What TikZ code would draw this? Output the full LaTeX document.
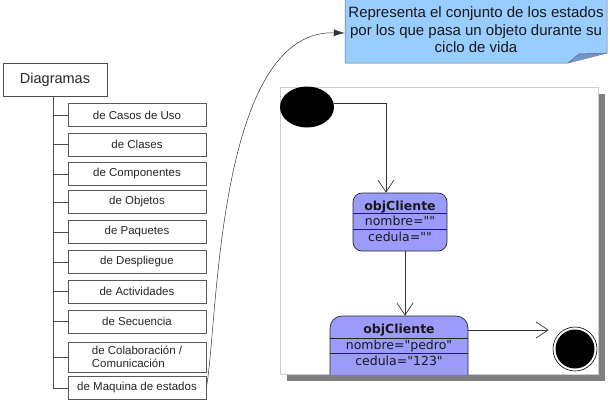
\documentclass[tikz,border=0pt]{standalone}
\usepackage{fontspec}
\setmainfont{Liberation Sans}
\newfontfamily\dejavu{DejaVu Sans}
\usetikzlibrary{arrows.meta,shapes.geometric}
\definecolor{noteblue}{RGB}{153,204,255}
\definecolor{foldblue}{RGB}{110,150,205}
\definecolor{statefill}{RGB}{155,155,252}
\definecolor{shadowgray}{RGB}{128,128,128}
\definecolor{framegray}{RGB}{205,205,205}
\begin{document}
\begin{tikzpicture}[x=1pt,y=-1pt,
  treebox/.style={draw=black!65, fill=white, minimum width=138pt, minimum height=23pt, inner sep=0pt,
    font=\fontsize{11.5}{13}\selectfont, text=black!85},
  treeline/.style={draw=black!70, line width=0.7pt},
  statebox/.style={draw=black!85, fill=statefill, line width=0.7pt, inner sep=0pt},
  statetext/.style={anchor=base, inner sep=0pt, font=\dejavu\fontsize{12.5}{14}\selectfont, text=black!90},
  divider/.style={draw=black!85, line width=0.7pt},
  statearrow/.style={draw=black!80, line width=0.7pt, -{Straight Barb[length=12pt,width=16pt]}},
]
\useasboundingbox (0,0) rectangle (610,400);

% ---- left tree ----
\node (dg) [draw=black!70, fill=white, minimum width=104pt, minimum height=33pt, inner sep=0pt,
  font=\fontsize{14.5}{16}\selectfont, text=black!85] at (55,79.5) {Diagramas};
\node (c1)  [treebox] at (137,115)   {de Casos de Uso};
\node (c2)  [treebox] at (137,144.5) {de Clases};
\node (c3)  [treebox] at (137,174)   {de Componentes};
\node (c4)  [treebox] at (137,202)   {de Objetos};
\node (c5)  [treebox] at (137,232)   {de Paquetes};
\node (c6)  [treebox] at (137,262)   {de Despliegue};
\node (c7)  [treebox] at (137,291.5) {de Actividades};
\node (c8)  [treebox] at (137,321.5) {de Secuencia};
\node (c9)  [treebox, minimum height=30pt, align=left] at (137,357) {de Colaboración /\\Comunicación};
\node (c10) [treebox] at (137,388)   {de Maquina de estados};

\draw[treeline] ([xshift=-2pt]dg.south) |- (c10.west);
\foreach \c in {c1,c2,c3,c4,c5,c6,c7,c8,c9}
  \draw[treeline] ([xshift=-2pt]dg.south |- \c.west) -- (\c.west);

% ---- note ----
\fill[noteblue] (345,-2) -- (607,-2) -- (607,53) -- (568,63) -- (345,63) -- cycle;
\draw[black!60, line width=0.5pt] (607,-2) -- (607,53) -- (568,63) -- (345,63) -- (345,-2);
\fill[foldblue] (568,63) -- (579,54) -- (607,53) -- cycle;
\draw[black!60, line width=0.5pt] (568,63) -- (579,54) -- (607,53);
\node (note) [minimum width=262pt, minimum height=64pt, inner sep=0pt, align=center,
  font=\fontsize{15}{17.5}\selectfont, text=black!90] at (476,30)
  {Representa el conjunto de los estados\\por los que pasa un objeto durante su\\ciclo de vida};

\draw[black!80, line width=0.5pt, -{Latex[length=11pt,width=7pt]}]
  (c10.east) .. controls (218,330) and (215,30) .. ([yshift=-3pt]note.west);

% ---- state frame ----
\fill[shadowgray] (287,94) rectangle (605,381);
\draw[framegray, fill=white, line width=0.7pt] (280,87) rectangle (598,374);

\node (init) [ellipse, fill=black, minimum width=54pt, minimum height=41pt, inner sep=0pt] at (307,107) {};

\begin{scope}
\clip (280,87) rectangle (598,374.5);
% state 1
\node (s1) [statebox, rounded corners=9pt, minimum width=94pt, minimum height=58pt] at (400,222) {};
\draw[divider] (s1.west |- 0,213) -- (s1.east |- 0,213);
\draw[divider] (s1.west |- 0,229) -- (s1.east |- 0,229);
\node (s1t) [statetext, font=\dejavu\bfseries\fontsize{12.5}{14}\selectfont] at (400,210) {objCliente};
\node (s1a) [statetext] at (400,225.5) {nombre=""};
\node (s1b) [statetext] at (400,241) {cedula=""};
% state 2
\node (s2) [statebox, rounded corners=12pt, minimum width=138pt, minimum height=74pt] at (399,353) {};
\draw[divider] (s2.west |- 0,338) -- (s2.east |- 0,338);
\draw[divider] (s2.west |- 0,353) -- (s2.east |- 0,353);
\node (s2t) [statetext, font=\dejavu\bfseries\fontsize{12.5}{14}\selectfont] at (399,333.5) {objCliente};
\node (s2a) [statetext] at (399,349) {nombre="pedro"};
\node (s2b) [statetext] at (399,365) {cedula="123"};
% final state
\node (fin) [circle, draw=black, fill=white, line width=0.6pt, minimum size=44pt, inner sep=0pt] at (575,349) {};
\fill[black] (fin.center) circle (19.5);
\end{scope}

% transitions
\draw[statearrow] ([yshift=4pt]init.east) -| ([xshift=-14pt]s1.north);
\draw[statearrow] ([xshift=5pt]s1.south) -- ([xshift=5pt]s1.south |- s2.north);
\draw[statearrow] (s2.east |- 0,330) -- ([xshift=-4pt]fin.west |- 0,330);
\end{tikzpicture}
\end{document}
